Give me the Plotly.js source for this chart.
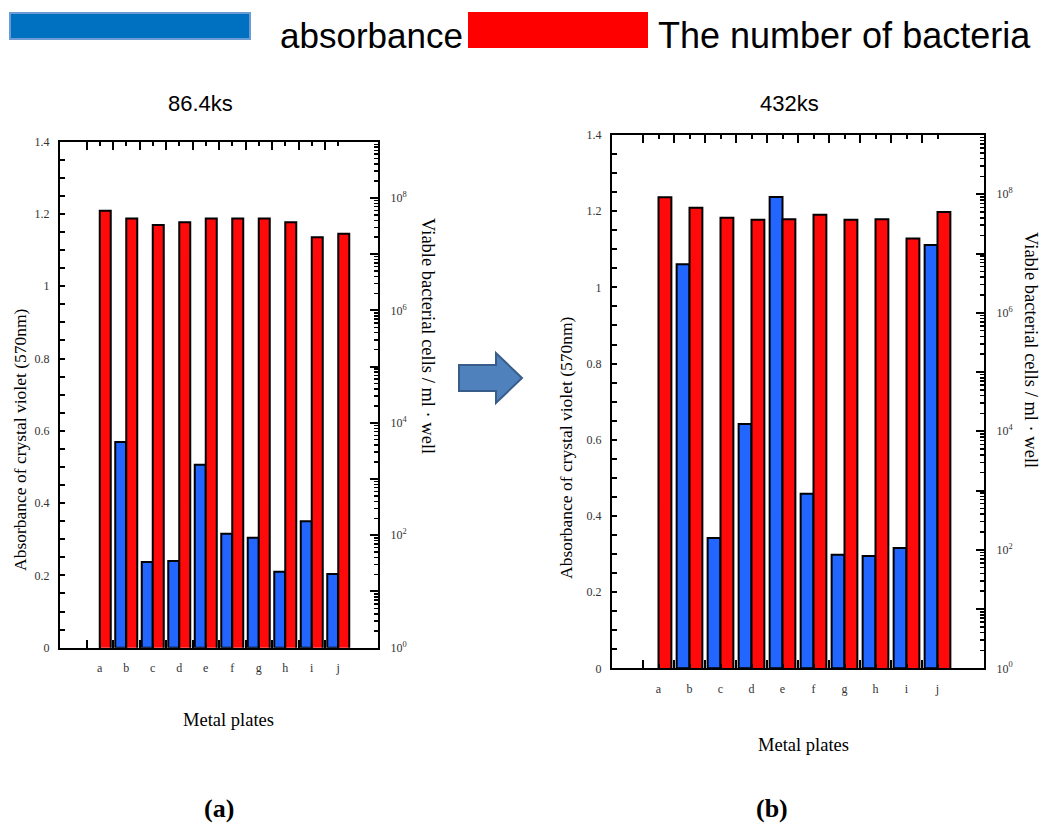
<!DOCTYPE html>
<html>
<head>
<meta charset="utf-8">
<script src="https://cdn.plot.ly/plotly-3.0.1.min.js"></script>
<style>html,body{margin:0;padding:0;background:#fff;}#chart{width:1041px;height:824px;}</style>
</head>
<body>
<div id="chart"></div>
<script>
// ---------- data ----------
const plates = ['a','b','c','d','e','f','g','h','i','j'];
const absorbance86 = [0, 0.569, 0.237, 0.240, 0.506, 0.315, 0.304, 0.210, 0.350, 0.204];
const bacteria86   = [5.9e7, 4.3e7, 3.3e7, 3.7e7, 4.3e7, 4.3e7, 4.3e7, 3.7e7, 2.0e7, 2.3e7];
const absorbance432 = [0, 1.061, 0.342, 0.641, 1.237, 0.458, 0.298, 0.295, 0.316, 1.111];
const bacteria432   = [8.9e7, 5.9e7, 4.0e7, 3.7e7, 3.8e7, 4.5e7, 3.7e7, 3.8e7, 1.8e7, 5.0e7];
const panelTitles = ['86.4ks', '432ks'];
const panelLabels = ['(a)', '(b)'];
const legendNames = ['absorbance', 'The number of bacteria'];
const yLeftTitle = 'Absorbance of crystal violet (570nm)';
const yRightTitle = 'Viable bacterial cells / ml \u00b7 well';
const xTitle = 'Metal plates';
const logTickVals = [1,10,100,1e3,1e4,1e5,1e6,1e7,1e8,1e9];
const logTickText = ['10<sup>0</sup>',' ','10<sup>2</sup>',' ','10<sup>4</sup>',' ','10<sup>6</sup>',' ','10<sup>8</sup>',' '];

// ---------- helpers ----------
const W = 1041, H = 824;
const px = x => x / W;
const py = y => 1 - y / H;
const idx = plates.map((_, i) => i);
const bounds = idx.map(i => i - 0.5);
const minorLog = [];
for (let k = 0; k < 9; k++) for (let m = 2; m <= 9; m++) minorLog.push(m * Math.pow(10, k));

const BLUE = '#2266FF', RED = '#FF0A0A';
const serif = 'Liberation Serif, Times New Roman, serif';
const sans = 'Liberation Sans, Arial, sans-serif';
const lineW = vals => vals.map(v => v > 0 ? 2 : 0);

const traces = [
  {type:'bar', x: idx, y: absorbance86, xaxis:'x', yaxis:'y', name: legendNames[0],
   marker:{color: BLUE, line:{color:'#000', width: lineW(absorbance86)}}, offsetgroup:'1', alignmentgroup:'g1', hoverinfo:'y'},
  {type:'bar', x: idx, y: bacteria86, xaxis:'x', yaxis:'y2', name: legendNames[1],
   marker:{color: RED, line:{color:'#000', width:2}}, offsetgroup:'2', alignmentgroup:'g1', hoverinfo:'y'},
  {type:'bar', x: idx, y: absorbance432, xaxis:'x2', yaxis:'y3', name: legendNames[0],
   marker:{color: BLUE, line:{color:'#000', width: lineW(absorbance432)}}, offsetgroup:'1', alignmentgroup:'g2', hoverinfo:'y'},
  {type:'bar', x: idx, y: bacteria432, xaxis:'x2', yaxis:'y4', name: legendNames[1],
   marker:{color: RED, line:{color:'#000', width:2}}, offsetgroup:'2', alignmentgroup:'g2', hoverinfo:'y'}
];

function panel(xd, yd, xName, yL, yR, xId, yId) {
  const out = {};
  out[xName] = {domain: xd, anchor: yId, side:'bottom', range:[-1.5, 10.5],
    showgrid:false, zeroline:false, fixedrange:true,
    tickmode:'array', tickvals: idx, ticktext: plates,
    ticks:'inside', ticklen:4, tickwidth:2, tickcolor:'#000',
    minor:{tickmode:'array', tickvals: bounds, ticks:'inside', ticklen:8, tickwidth:2, tickcolor:'#000'},
    showline:true, linewidth:2, linecolor:'#000', mirror:'ticks',
    ticklabelstandoff: 8, tickfont:{family: serif, size:12, color:'#333'}};
  out[yL] = {domain: yd, anchor: xId, range:[0,1.4], dtick:0.2, tick0:0,
    ticks:'inside', ticklen:5, tickwidth:2, tickcolor:'#000',
    minor:{dtick:0.05, tick0:0, ticks:'inside', ticklen:5, tickwidth:2, tickcolor:'#000'},
    showline:true, linewidth:2, linecolor:'#000', showgrid:false, zeroline:false, fixedrange:true,
    ticklabelstandoff: 6, tickfont:{family: serif, size:12, color:'#333'}};
  out[yR] = {overlaying: yL.replace('axis',''), anchor: xId, side:'right', type:'log', range:[0,9],
    tickmode:'array', tickvals: logTickVals, ticktext: logTickText,
    ticks:'inside', ticklen:8, tickwidth:2, tickcolor:'#000',
    minor:{tickmode:'array', tickvals: minorLog, ticks:'inside', ticklen:4, tickwidth:1.5, tickcolor:'#000'},
    showline:true, linewidth:2, linecolor:'#000', showgrid:false, zeroline:false, fixedrange:true,
    ticklabelstandoff: 8, tickfont:{family: serif, size:12, color:'#333'}};
  return out;
}

const layout = {
  width: W, height: H, margin:{l:0, r:0, t:0, b:0},
  paper_bgcolor:'#fff', plot_bgcolor:'rgba(0,0,0,0)',
  showlegend:false, barmode:'group', bargap:0.17, bargroupgap:0,
  font:{family: serif, color:'#000'},
  annotations: [], shapes: []
};
Object.assign(layout, panel([px(60), px(378)], [py(647.7), py(141.7)], 'xaxis','yaxis','yaxis2','x','y'));
Object.assign(layout, panel([px(612), px(984)], [py(668.3), py(135)], 'xaxis2','yaxis3','yaxis4','x2','y3'));

function ann(text, x, y, opts) {
  layout.annotations.push(Object.assign({text, x: px(x), y: py(y), xref:'paper', yref:'paper',
    showarrow:false, xanchor:'center', yanchor:'middle'}, opts || {}));
}
// panel titles
ann(panelTitles[0], 200, 103, {font:{family: sans, size:22, color:'#000'}});
ann(panelTitles[1], 789, 103, {font:{family: sans, size:22, color:'#000'}});
// axis titles
ann(yLeftTitle, 20, 440, {textangle:-90, font:{family: serif, size:17.5, color:'#000'}});
ann(yLeftTitle, 566, 448, {textangle:-90, font:{family: serif, size:17.5, color:'#000'}});
ann(yRightTitle, 428, 336, {textangle:90, font:{family: serif, size:18.5, color:'#000'}});
ann(yRightTitle, 1031, 350, {textangle:90, font:{family: serif, size:18.5, color:'#000'}});
ann(xTitle, 228, 720, {font:{family: serif, size:18.5, color:'#000'}});
ann(xTitle, 803, 745, {font:{family: serif, size:18.5, color:'#000'}});
// panel labels
ann('<b>' + panelLabels[0] + '</b>', 219, 808, {font:{family: serif, size:26, color:'#000'}});
ann('<b>' + panelLabels[1] + '</b>', 772, 808, {font:{family: serif, size:26, color:'#000'}});
// legend
layout.shapes.push({type:'rect', xref:'paper', yref:'paper', x0:px(10), x1:px(250), y0:py(39), y1:py(13),
  fillcolor:'#0070C0', line:{color:'#6A9BD4', width:2}});
layout.shapes.push({type:'rect', xref:'paper', yref:'paper', x0:px(468), x1:px(648), y0:py(48), y1:py(12),
  fillcolor:'#FF0000', line:{width:0}});
ann(legendNames[0], 278, 35, {xanchor:'left', font:{family: sans, size:35, color:'#000'}});
ann(legendNames[1], 656, 35, {xanchor:'left', font:{family: sans, size:36, color:'#000'}});
// arrow
const arrowPts = [[459,365],[496,365],[496,353],[522,378],[496,403],[496,391],[459,391]];
layout.shapes.push({type:'path', xref:'paper', yref:'paper',
  path: 'M' + arrowPts.map(p => px(p[0]) + ',' + py(p[1])).join(' L') + ' Z',
  fillcolor:'#4F81BD', line:{color:'#385D8A', width:2}});

Plotly.newPlot('chart', traces, layout, {staticPlot:true, displayModeBar:false});
</script>
</body>
</html>
